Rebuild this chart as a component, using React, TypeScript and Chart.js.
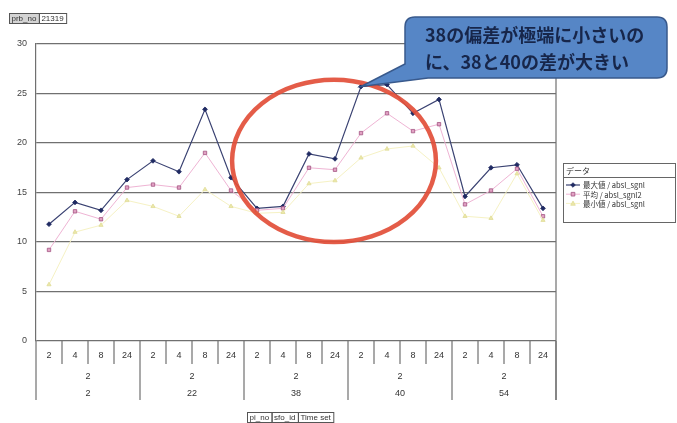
import { useEffect, useRef } from "react";
import { Chart, registerables } from "chart.js";

Chart.register(...registerables);

// Row fields of the pivot axis: pi_no > sfo_id > Time set
const timeSets = ["2", "4", "8", "24"];
const sfoIds = ["2", "2", "2", "2", "2"];
const piNos = ["2", "22", "38", "40", "54"];

const maxValues = [11.8, 14.0, 13.2, 16.3, 18.2, 17.1, 23.4, 16.5, 13.4, 13.6, 18.9, 18.4, 25.7, 25.9, 23.0, 24.4, 14.6, 17.5, 17.8, 13.4];
const meanValues = [9.2, 13.1, 12.3, 15.5, 15.8, 15.5, 19.0, 15.2, 13.2, 13.4, 17.5, 17.3, 21.0, 23.0, 21.2, 21.9, 13.8, 15.2, 17.4, 12.6];
const minValues = [5.7, 11.0, 11.7, 14.2, 13.6, 12.6, 15.3, 13.6, 12.9, 13.0, 15.9, 16.2, 18.5, 19.4, 19.7, 17.5, 12.6, 12.4, 16.9, 12.2];

const seriesNames = ["最大値 / absl_sgnl", "平均 / absl_sgnl2", "最小値 / absl_sgnl"];
const legendTitle = "データ";
const pageFields = ["prb_no", "21319"];
const rowFields = ["pi_no", "sfo_id", "Time set"];
const calloutLines = ["38の偏差が極端に小さいの", "に、38と40の差が大きい"];
const calloutPointIndex = 12;

const categories = piNos.flatMap((p, g) => timeSets.map((t) => `${p}|${sfoIds[g]}|${t}`));

const JP = '"Noto Sans CJK JP", "Noto Sans", sans-serif';
const LAT = '"Liberation Sans", Arial, sans-serif';

const seriesStyles = [
  { line: "#3a4272", fill: "#1f2a62", border: "#1f2a62", style: "rectRot", width: 1.2 },
  { line: "#efb4d4", fill: "#e2a2c4", border: "#a25482", style: "rect", width: 1 },
  { line: "#f6f2c4", fill: "#ece8a8", border: "#e0dc98", style: "triangle", width: 1 },
];

function drawMarker(ctx: CanvasRenderingContext2D, kind: string, x: number, y: number, r: number, fill: string, stroke: string) {
  ctx.beginPath();
  if (kind === "rectRot") {
    ctx.moveTo(x, y - r);
    ctx.lineTo(x + r, y);
    ctx.lineTo(x, y + r);
    ctx.lineTo(x - r, y);
  } else if (kind === "rect") {
    ctx.rect(x - r * 0.8, y - r * 0.8, r * 1.6, r * 1.6);
  } else {
    ctx.moveTo(x, y - r);
    ctx.lineTo(x + r, y + r * 0.8);
    ctx.lineTo(x - r, y + r * 0.8);
  }
  ctx.closePath();
  ctx.fillStyle = fill;
  ctx.fill();
  ctx.strokeStyle = stroke;
  ctx.lineWidth = 0.8;
  ctx.stroke();
}

function fieldBox(ctx: CanvasRenderingContext2D, items: string[], x: number, y: number, h: number, shadeFirst: boolean) {
  ctx.font = `8px ${LAT}`;
  ctx.textBaseline = "middle";
  ctx.textAlign = "left";
  let cx = x;
  items.forEach((t, i) => {
    const w = ctx.measureText(t).width + 5;
    if (shadeFirst && i === 0) {
      ctx.fillStyle = "#d4d4d4";
      ctx.fillRect(cx, y, w, h);
    }
    ctx.strokeStyle = "#555";
    ctx.lineWidth = 1;
    ctx.strokeRect(cx + 0.5, y + 0.5, w, h);
    ctx.fillStyle = "#333";
    ctx.fillText(t, cx + 2.5, y + h / 2 + 0.5);
    cx += w;
  });
}

const overlay = {
  id: "overlay",
  beforeDraw(chart: any) {
    const { ctx, width, height } = chart;
    ctx.save();
    ctx.fillStyle = "#ffffff";
    ctx.fillRect(0, 0, width, height);
    ctx.restore();
  },
  afterDraw(chart: any) {
    const { ctx, chartArea: a, scales } = chart;
    const xs = scales.x;
    const ys = scales.y;
    const n = categories.length;
    const bw = (a.right - a.left) / n;
    const per = timeSets.length;
    ctx.save();

    // plot frame on the right and axis separators below
    ctx.strokeStyle = "#707070";
    ctx.lineWidth = 1.2;
    ctx.beginPath();
    ctx.moveTo(a.right, a.top);
    ctx.lineTo(a.right, a.bottom + 59);
    ctx.stroke();
    for (let i = 0; i <= n; i++) {
      const px = a.left + i * bw;
      const len = i % per === 0 ? 59 : 23;
      ctx.beginPath();
      ctx.moveTo(px, a.bottom);
      ctx.lineTo(px, a.bottom + len);
      ctx.stroke();
    }

    // hierarchical category labels
    ctx.fillStyle = "#333";
    ctx.font = `9px ${LAT}`;
    ctx.textAlign = "center";
    ctx.textBaseline = "middle";
    categories.forEach((c, i) => {
      const t = c.split("|")[2];
      ctx.fillText(t, xs.getPixelForValue(i), a.bottom + 15);
    });
    piNos.forEach((p, g) => {
      const cx = a.left + (g * per + per / 2) * bw;
      ctx.fillText(sfoIds[g], cx, a.bottom + 36);
      ctx.fillText(p, cx, a.bottom + 53);
    });

    // field buttons
    fieldBox(ctx, pageFields, 9, 13, 10, true);
    fieldBox(ctx, rowFields, 247, 412, 10, false);

    // legend
    const lx = 563, ly = 163, lw = 112, lh = 59;
    ctx.strokeStyle = "#666";
    ctx.lineWidth = 1;
    ctx.strokeRect(lx + 0.5, ly + 0.5, lw, lh);
    ctx.beginPath();
    ctx.moveTo(lx, ly + 14.5);
    ctx.lineTo(lx + lw, ly + 14.5);
    ctx.stroke();
    ctx.fillStyle = "#333";
    ctx.textAlign = "left";
    ctx.font = `8px ${JP}`;
    ctx.fillText(legendTitle, lx + 3, ly + 7.5);
    seriesNames.forEach((name, i) => {
      const yy = ly + 22 + i * 9.2;
      const st = seriesStyles[i];
      ctx.strokeStyle = st.line;
      ctx.lineWidth = st.width;
      ctx.beginPath();
      ctx.moveTo(lx + 3, yy);
      ctx.lineTo(lx + 17, yy);
      ctx.stroke();
      drawMarker(ctx, st.style, lx + 10, yy, 2.3, st.fill, st.border);
      ctx.fillStyle = "#333";
      ctx.font = `7.5px ${JP}`;
      ctx.fillText(name, lx + 20, yy + 0.5);
    });

    // red ellipse around pi_no 38
    const ex = xs.getPixelForValue(11) - 1;
    const ey = ys.getPixelForValue(18.2);
    ctx.strokeStyle = "rgba(226,78,56,0.92)";
    ctx.lineWidth = 4.5;
    ctx.beginPath();
    ctx.ellipse(ex, ey, bw * 3.92, (ys.getPixelForValue(0) - ys.getPixelForValue(8.2)), 0, 0, Math.PI * 2);
    ctx.stroke();

    // callout pointing at the max of pi_no 40, Time set 2
    const tipX = xs.getPixelForValue(calloutPointIndex);
    const tipY = ys.getPixelForValue(maxValues[calloutPointIndex]);
    const L = 405, T = 17, R = 667, B = 78, r = 10;
    ctx.beginPath();
    ctx.moveTo(L + r, T);
    ctx.lineTo(R - r, T);
    ctx.quadraticCurveTo(R, T, R, T + r);
    ctx.lineTo(R, B - r);
    ctx.quadraticCurveTo(R, B, R - r, B);
    ctx.lineTo(L + 23, B);
    ctx.lineTo(tipX, tipY);
    ctx.lineTo(L, B - 14);
    ctx.lineTo(L, T + r);
    ctx.quadraticCurveTo(L, T, L + r, T);
    ctx.closePath();
    ctx.fillStyle = "#5686c6";
    ctx.fill();
    ctx.strokeStyle = "#38598c";
    ctx.lineWidth = 1.5;
    ctx.stroke();

    ctx.fillStyle = "#17264a";
    ctx.font = `bold 18px ${JP}`;
    ctx.textAlign = "left";
    ctx.textBaseline = "middle";
    ctx.fillText(calloutLines[0], L + 20, T + 18);
    ctx.fillText(calloutLines[1], L + 20, T + 45);

    ctx.restore();
  },
};

export default function App() {
  const ref = useRef<HTMLCanvasElement | null>(null);

  useEffect(() => {
    if (!ref.current) return;
    const chart = new Chart(ref.current, {
      type: "line",
      data: {
        labels: categories,
        datasets: [maxValues, meanValues, minValues].map((vals, i) => ({
          label: seriesNames[i],
          data: vals,
          borderColor: seriesStyles[i].line,
          borderWidth: seriesStyles[i].width,
          backgroundColor: seriesStyles[i].fill,
          pointBackgroundColor: seriesStyles[i].fill,
          pointBorderColor: seriesStyles[i].border,
          pointBorderWidth: 0.8,
          pointStyle: seriesStyles[i].style as any,
          pointRadius: 2.4,
          tension: 0,
          fill: false,
          order: 3 - i,
        })),
      },
      options: {
        animation: false,
        responsive: false,
        layout: { padding: { left: 0, right: 121, top: 44, bottom: 82 } },
        plugins: { legend: { display: false }, tooltip: { enabled: false } },
        scales: {
          x: { display: false, offset: true },
          y: {
            min: 0,
            max: 30,
            ticks: { stepSize: 5, padding: 9, color: "#444", font: { size: 9, family: LAT } },
            grid: { color: "#707070", lineWidth: 1.2, drawTicks: false },
            border: { display: true, color: "#707070", width: 1.2 },
            afterFit(s: any) {
              s.width = 36;
            },
          },
        },
      },
      plugins: [overlay],
    });
    return () => chart.destroy();
  }, []);

  return (
    <div style={{ position: "fixed", left: 0, top: 0, width: 677, height: 423, background: "#fff" }}>
      <canvas ref={ref} width={677} height={423} style={{ width: 677, height: 423, display: "block" }} />
    </div>
  );
}
